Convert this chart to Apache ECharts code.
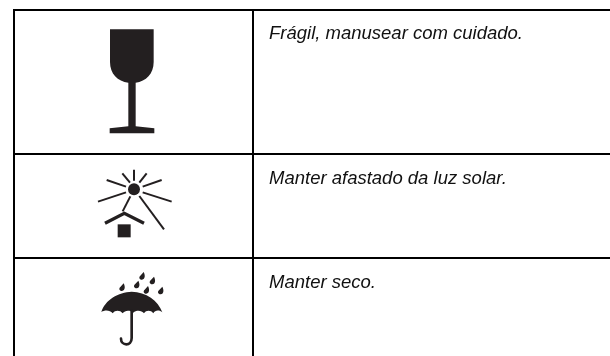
<!DOCTYPE html>
<html><head><meta charset="utf-8">
<style>html,body{margin:0;padding:0;background:#fff}#c{width:610px;height:356px}</style>
<script src="https://cdn.jsdelivr.net/npm/echarts@6/dist/echarts.min.js"></script>
</head><body><div id="c"></div>
<script>
const captions = ['Frágil, manusear com cuidado.', 'Manter afastado da luz solar.', 'Manter seco.'];
const icons = ['glass', 'sun', 'umbrella'];

const INK = '#231f20';
const tableLeft = 14, colSplit = 253, tableTop = 10, rowTops = [10, 154, 258], tableBottom = 356, tableRight = 610;
const textX = 269, textMid = [34, 179, 283];

function line(x1, y1, x2, y2, w, color) {
  return {type:'line', shape:{x1,y1,x2,y2}, style:{stroke:color||'#000', lineWidth:w, lineCap:'butt'}};
}
function ray(x1,y1,x2,y2){ return line(x1,y1,x2,y2,6,INK); }
function drop(x,y){
  return {type:'path', shape:{pathData:`M${x+5} ${y-14} C${x+10} ${y-4} ${x+10} ${y+7} ${x} ${y+9} C${x-9} ${y+9} ${x-10} ${y+1} ${x-5} ${y-3} Z`}, style:{fill:INK}};
}
function iconGroup(name){
  if(name==='glass') return {type:'group', x:0, y:0, scaleX:1/3, scaleY:1/3, children:[
    {type:'path', shape:{pathData:'M330 88 L461 88 L461 186 C461 222 438 244 407 248 L407 379 C425 381 445 383 463 385 L463 400 L329 400 L329 385 C347 383 367 381 385 379 L385 248 C353 244 330 222 330 186 Z'}, style:{fill:INK}}
  ]};
  if(name==='sun') return {type:'group', x:70, y:160, scaleX:1/3, scaleY:1/3, children:[
    {type:'circle', shape:{cx:192,cy:88,r:18}, style:{fill:INK}},
    ray(192,29,192,62), ray(157,40,180,68), ray(230,40,208,68),
    ray(110,60,168,80), ray(275,60,218,80),
    ray(84,125,168,97), ray(305,125,218,97),
    ray(158,154,181,109), ray(282,208,208,108),
    {type:'polyline', shape:{points:[[105,190],[163,160],[222,190]]}, style:{stroke:INK, lineWidth:10, fill:null, lineJoin:'miter'}},
    {type:'rect', shape:{x:143,y:193,width:39,height:39}, style:{fill:INK}}
  ]};
  return {type:'group', x:70, y:250, scaleX:1/3, scaleY:1/3, children:[
    {type:'path', shape:{pathData:'M94 186 C105 150 145 126 185 125 C228 126 265 152 277 187 C268 179 255 180 250 190 C243 180 228 180 222 190 C215 180 198 180 190 188 C180 180 165 180 158 190 C150 180 135 180 128 190 C120 180 105 179 94 186 Z'}, style:{fill:INK}},
    {type:'path', shape:{pathData:'M185 183 L185 264 C185 290 153 288 153 266'}, style:{stroke:INK, lineWidth:8, fill:null, lineCap:'round'}},
    drop(216,80), drop(247,94), drop(200,106), drop(156,114), drop(229,122), drop(272,124)
  ]};
}

const chart = echarts.init(document.getElementById('c'), null, {renderer:'canvas'});
chart.setOption({
  animation:false,
  backgroundColor:'#fff',
  graphic:{elements:[
    ...rowTops.map(y=>({type:'line', silent:true, shape:{x1:tableLeft-1,y1:y,x2:tableRight,y2:y}, style:{stroke:'#000',lineWidth:2}})),
    ...[tableLeft,colSplit].map(x=>({type:'line', silent:true, shape:{x1:x,y1:tableTop,x2:x,y2:tableBottom}, style:{stroke:'#000',lineWidth:2}}))
  ]},
  series:[{
    type:'custom',
    coordinateSystem:'none',
    silent:true,
    data:captions.map((c,i)=>[i]),
    renderItem(params, api){
      const i = api.value(0);
      return {type:'group', children:[
        iconGroup(icons[i]),
        {type:'text', x:textX, y:textMid[i], style:{text:captions[i], fill:'#111', font:'italic 18.5px "Liberation Sans", Arial, sans-serif', verticalAlign:'middle', align:'left'}}
      ]};
    }
  }]
});
</script></body></html>
